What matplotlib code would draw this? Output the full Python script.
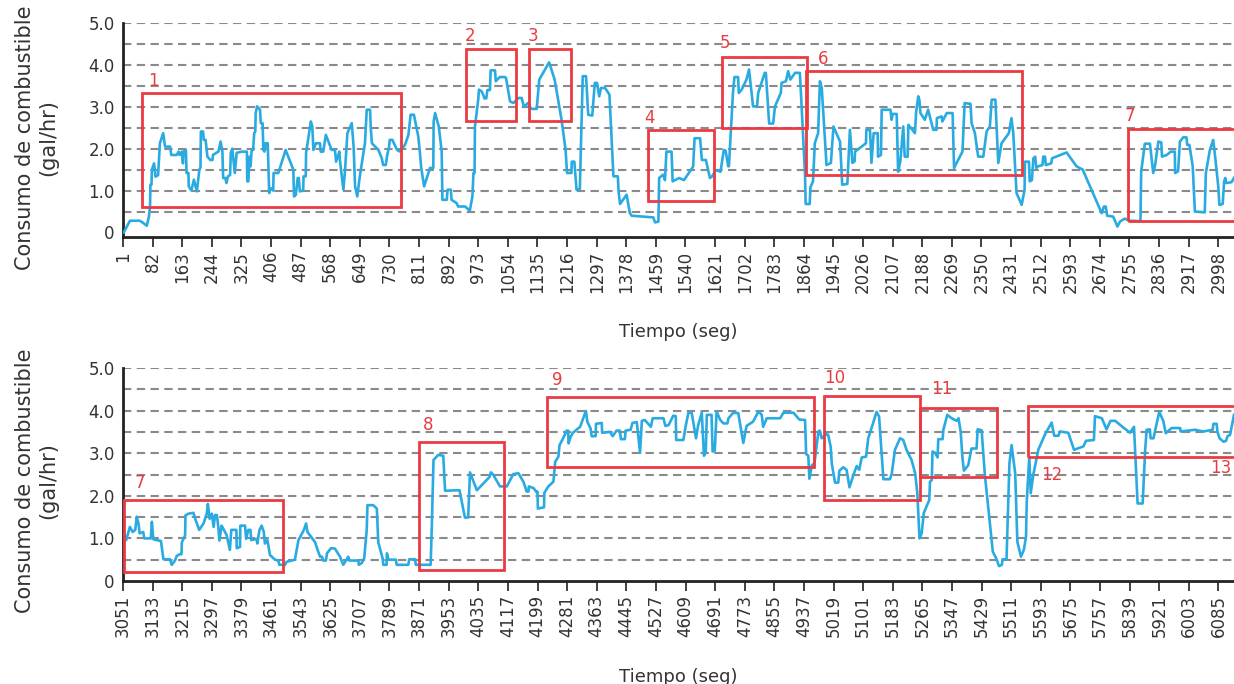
import matplotlib
matplotlib.use("Agg")
import matplotlib.pyplot as plt
from matplotlib.patches import Rectangle
import numpy as np

# --- data: (time in s, fuel use in gal/hr) ---
top_t = [3, 20, 47, 56, 66, 72, 75, 76, 79, 80, 86, 90, 97, 102, 111, 116, 130, 133, 148, 153, 156, 162, 165, 167,
         173, 175, 180, 181, 188, 195, 203, 210, 213, 214, 220, 222, 227, 232, 240, 246, 247, 262, 268, 273, 275, 281,
         284, 288, 294, 296, 300, 307, 312, 326, 340, 341, 344, 347, 350, 353, 357, 360, 363, 364, 368, 376, 378, 383,
         385, 388, 391, 397, 401, 405, 412, 413, 426, 446, 467, 469, 474, 479, 482, 485, 494, 495, 501, 502, 515, 519,
         522, 529, 540, 542, 549, 556, 572, 581, 584, 593, 594, 604, 608, 615, 627, 632, 636, 642, 649, 663, 668, 677,
         679, 682, 700, 709, 713, 720, 724, 729, 731, 738, 751,
         759, 773, 782, 788, 797, 809, 814, 817, 825, 841, 850, 851, 855, 865, 873, 875, 887, 889, 898, 900, 914, 918,
         937, 950, 957, 960, 963, 964, 973, 975, 982, 986, 990, 995, 998, 1005, 1007, 1019, 1021, 1025, 1032, 1046,
         1049, 1060, 1069, 1083, 1092, 1098, 1109, 1118, 1133, 1140, 1167, 1182, 1201, 1212, 1216, 1228, 1229, 1236,
         1242, 1251, 1259, 1268, 1274, 1285, 1292, 1298, 1304, 1309, 1320, 1332, 1343, 1355, 1357, 1361, 1379, 1388,
         1393, 1452, 1457, 1466, 1468, 1479, 1484, 1488, 1502, 1505, 1523, 1536, 1561, 1565, 1580, 1585, 1596, 1607,
         1613, 1623, 1636, 1645, 1650, 1657, 1659, 1670, 1674, 1684, 1686, 1694, 1707, 1714, 1725, 1736, 1739, 1757,
         1760, 1769, 1780, 1785, 1801, 1803, 1815, 1821, 1827, 1840, 1853, 1856, 1867, 1869, 1880, 1882, 1889, 1894,
         1903, 1908, 1913, 1926, 1938, 1945, 1963, 1969, 1983, 1990, 1997, 2003, 2004, 2034, 2035, 2045, 2049, 2055,
         2066, 2067, 2075, 2077, 2101, 2104, 2107, 2118, 2122, 2128, 2136, 2140, 2148, 2150, 2168, 2171, 2177, 2180,
         2183, 2195, 2204, 2218, 2227, 2228, 2241, 2243, 2255, 2271, 2275, 2298, 2304, 2320, 2323, 2332, 2341, 2355,
         2364, 2373, 2378, 2388, 2396, 2405, 2425, 2432, 2437, 2446, 2460, 2468, 2469, 2480, 2482, 2488, 2492, 2497,
         2500, 2505, 2517, 2519, 2524, 2526, 2541, 2543, 2583, 2610, 2627, 2679, 2685, 2690, 2694, 2710, 2714, 2722,
         2729, 2736, 2742, 2756, 2785, 2787, 2797, 2811, 2820, 2825, 2834, 2842, 2844, 2857, 2868, 2879, 2880, 2888,
         2893, 2902, 2911, 2913, 2919, 2928, 2934, 2961, 2964, 2975, 2984, 2987, 2998, 3001, 3010, 3014, 3017, 3020,
         3034, 3041]
top_v = [0.0, 0.28, 0.28, 0.23, 0.16, 0.38, 0.62, 1.14, 1.14, 1.5, 1.65, 1.33, 1.37, 2.13, 2.37, 2.05, 2.05, 1.85, 1.85,
         1.93, 1.85, 1.93, 1.65, 1.93, 1.97, 1.42, 1.42, 1.1, 1.0, 1.26, 0.98, 1.5, 1.55, 2.41, 2.41, 2.21, 2.21, 1.81,
         1.73, 1.73, 1.85, 1.93, 2.17, 1.93, 1.3, 1.3, 1.18, 1.34, 1.37, 1.9, 2.0, 1.42, 1.9, 1.93, 1.93, 1.22, 1.22,
         1.81, 1.58, 1.97, 1.97, 2.37, 2.41, 2.85, 3.01, 2.93, 2.61, 2.61, 1.97, 1.93, 2.13, 2.13, 0.94, 1.06, 1.0, 1.42,
         1.42, 1.97, 1.5, 0.86, 0.9, 1.3, 1.3, 0.98, 1.0, 1.34, 1.34, 1.9, 2.65, 2.53, 1.97, 2.13, 2.13, 1.93, 1.93, 2.33,
         1.97, 1.97, 1.69, 1.93, 1.77, 1.02, 1.42, 2.37, 2.61, 2.05, 1.1, 0.86, 1.34, 2.13, 2.93, 2.93, 2.49, 2.13, 1.97,
         1.77, 1.61, 1.61, 1.85, 2.05, 2.21, 2.21, 1.97,
         1.93, 2.1, 2.33, 2.81, 2.81, 2.29, 1.85, 1.54, 1.1, 1.54, 1.54, 2.65, 2.85, 2.53, 1.93, 0.78, 0.78, 1.02, 1.02,
         0.78, 0.7, 0.62, 0.62, 0.52, 0.86, 1.42, 1.42, 2.53, 3.17, 3.41, 3.37, 3.3, 3.2, 3.2, 3.4, 3.4, 3.87, 3.87, 3.61,
         3.65, 3.71, 3.71, 3.69, 3.13, 3.09, 3.21, 3.21, 3.0, 3.09, 2.95, 2.95, 3.65, 4.06, 3.65, 2.69, 1.97, 1.42, 1.42,
         1.69, 1.69, 1.02, 1.04, 3.73, 3.73, 2.81, 2.79, 3.57, 3.57, 3.25, 3.45, 3.45, 3.29, 1.34, 1.34, 0.98, 0.68,
         0.9, 0.46, 0.4, 0.36, 0.24, 0.26, 1.3, 1.38, 1.25, 1.93, 1.93, 1.22, 1.3, 1.25, 1.57, 2.25, 2.25, 1.73, 1.73,
         1.3, 1.34, 1.49, 1.45, 1.97, 1.95, 1.58, 1.58, 3.33, 3.71, 3.71, 3.33, 3.41, 3.65, 3.89, 3.01, 3.01, 3.33, 3.81,
         3.81, 2.6, 2.6, 3.01, 3.33, 3.57, 3.61, 3.85, 3.65, 3.81, 3.81, 3.33, 1.42, 0.68, 0.68, 1.08, 1.22, 2.13, 2.37,
         3.61, 3.45, 1.61, 1.66, 2.53, 2.17, 1.14, 1.16, 2.45, 1.66, 1.7, 1.93, 2.13, 2.45, 2.45, 1.66, 2.37, 2.37, 1.81,
         1.85, 2.93, 2.93, 2.69, 2.83, 2.83, 1.45, 1.7, 2.53, 1.81, 1.81, 2.57, 2.37, 2.85, 3.25, 3.17, 2.85, 2.69, 2.93,
         2.45, 2.45, 2.73, 2.77, 2.65, 2.85, 2.85, 1.54, 1.93, 3.09, 3.07, 2.61, 2.37, 1.81, 1.81, 2.41, 2.53, 3.17, 3.17,
         1.66, 2.13, 2.37, 2.73, 2.37, 0.94, 0.66, 1.02, 1.69, 1.69, 1.22, 1.25, 1.77, 1.81, 1.54, 1.58, 1.61, 1.81, 1.81,
         1.61, 1.65, 1.77, 1.91, 1.58, 1.5, 0.46, 0.62, 0.62, 0.4, 0.38, 0.31, 0.14, 0.26, 0.3, 0.33, 0.28, 0.27, 1.45,
         2.12, 2.12, 1.42, 1.6, 2.17, 2.15, 1.81, 1.85, 1.93, 1.93, 1.42, 1.46, 2.17, 2.27, 2.27, 2.09, 2.09, 1.58, 0.5,
         0.48, 1.42, 1.97, 2.21, 2.0, 1.1, 0.66, 0.68, 1.22, 1.3, 1.18, 1.2, 1.3]

bot_t = [3055, 3060, 3070, 3078, 3085, 3089, 3094, 3097, 3107, 3110, 3128, 3131, 3135, 3144, 3156, 3163, 3181, 3186,
         3195, 3200, 3209, 3213, 3214, 3223, 3224, 3232, 3246, 3251, 3262, 3274, 3283, 3286, 3291, 3297, 3302, 3306,
         3311, 3315, 3318, 3324, 3338, 3347, 3351, 3365, 3366, 3375, 3376, 3389, 3392, 3398, 3404, 3406, 3421, 3423,
         3429, 3435, 3441, 3444, 3451, 3458, 3472, 3481, 3484, 3500, 3504, 3527, 3531, 3537, 3552, 3558, 3562, 3583,
         3592, 3597, 3602, 3606, 3613, 3616, 3627, 3638, 3652, 3661, 3675, 3678, 3703, 3704, 3712, 3719, 3726, 3728,
         3744, 3754, 3758, 3770, 3772, 3781, 3782, 3786, 3807, 3809, 3841, 3844, 3860, 3862, 3903, 3906, 3911, 3924,
         3938, 3943, 3983, 3998, 4007, 4012, 4031, 4066, 4070, 4076, 4095, 4114, 4132, 4146, 4160, 4169, 4174, 4175,
         4188, 4197, 4199, 4200, 4217, 4218, 4229, 4243, 4248, 4257, 4260, 4271, 4280, 4284, 4285, 4290, 4297, 4317,
         4333, 4337, 4346, 4349, 4360, 4361, 4377, 4378, 4400, 4407, 4418, 4427, 4430, 4441, 4443, 4457, 4462, 4474,
         4483, 4488, 4496, 4513, 4518, 4548, 4553, 4562, 4575, 4582, 4583, 4603, 4609, 4617, 4626, 4638, 4644, 4654,
         4660, 4665, 4668, 4681, 4684, 4690, 4695, 4705, 4714, 4725, 4728, 4741, 4755, 4769, 4778, 4796, 4811, 4820,
         4824, 4834, 4871, 4880, 4908, 4924, 4940, 4943, 4949, 4952, 4959, 4966, 4977,
         4981, 4986, 5000, 5004, 5011, 5014, 5023, 5032, 5035, 5046, 5055, 5063, 5074, 5083, 5090, 5097, 5109, 5115,
         5129, 5138, 5145, 5157, 5175, 5180, 5189, 5203, 5212, 5221, 5235, 5245, 5251, 5257, 5263, 5269, 5284, 5286,
         5291, 5293, 5300, 5307, 5309, 5321, 5323, 5334, 5346, 5360, 5365, 5371, 5376, 5380, 5392, 5401, 5415, 5418,
         5429, 5438, 5450, 5460, 5471, 5477, 5485, 5487, 5498, 5506, 5512, 5522, 5528, 5538, 5546, 5552, 5554, 5561,
         5565, 5572, 5586, 5605, 5623, 5630, 5642, 5646, 5669, 5685, 5711, 5718, 5740, 5743, 5762, 5775, 5786, 5799,
         5822, 5840, 5851, 5861, 5875, 5882, 5886, 5895, 5897, 5905, 5909, 5921, 5932, 5939, 5955, 5979, 5980, 6020,
         6043, 6069, 6071, 6080, 6082, 6088, 6099, 6106, 6110, 6117, 6128]
bot_v = [1.08, 0.96, 1.27, 1.15, 1.2, 1.51, 1.35, 1.12, 1.15, 1.0, 1.0, 1.39, 0.98, 0.96, 0.94, 0.51, 0.51, 0.38, 0.48,
         0.59, 0.63, 0.63, 0.91, 1.07, 1.54, 1.58, 1.6, 1.46, 1.2, 1.35, 1.58, 1.81, 1.46, 1.58, 1.27, 1.55, 1.55, 1.27,
         0.95, 1.3, 1.08, 0.73, 1.2, 1.2, 0.77, 0.8, 1.3, 1.3, 0.99, 1.2, 1.2, 0.96, 0.99, 0.88, 1.2, 1.3, 1.15, 0.88, 0.96,
         0.61, 0.5, 0.48, 0.38, 0.38, 0.45, 0.5, 0.68, 0.96, 1.2, 1.35, 1.15, 0.91, 0.68, 0.57, 0.57, 0.48, 0.48, 0.65,
         0.77, 0.76, 0.57, 0.38, 0.57, 0.48, 0.48, 0.38, 0.42, 0.53, 1.2, 1.78, 1.78, 1.7, 0.91, 0.53, 0.38, 0.38, 0.65,
         0.5, 0.5, 0.38, 0.38, 0.51, 0.51, 0.38, 0.38, 1.2, 2.84, 2.96, 2.94, 2.12, 2.13, 1.49, 1.49, 2.55, 2.13, 2.44,
         2.55, 2.5, 2.22, 2.22, 2.51, 2.53, 2.33, 2.1, 2.1, 2.22, 2.18, 2.08, 2.1, 1.7, 1.73, 2.07, 2.22, 2.33, 2.8, 2.92,
         3.19, 3.37, 3.53, 3.53, 3.23, 3.37, 3.48, 3.62, 3.99, 3.74, 3.58, 3.4, 3.4, 3.69, 3.71, 3.48, 3.5, 3.4, 3.53,
         3.53, 3.33, 3.33, 3.53, 3.55, 3.71, 3.73, 3.01, 3.76, 3.78, 3.62, 3.82, 3.82, 3.64, 3.66, 3.88, 3.87, 3.31, 3.31,
         3.62, 3.95, 3.95, 3.35, 3.66, 3.95, 2.94, 3.02, 3.9, 3.9, 3.04, 3.06, 3.98, 3.78, 3.7, 3.7, 3.82, 3.95, 3.94,
         3.24, 3.64, 3.74, 3.98, 3.9, 3.62, 3.82, 3.82, 3.95, 3.95, 3.79, 3.78, 2.98, 2.94, 2.4, 2.72, 2.76, 3.51,
         3.53, 3.35, 3.45, 3.43, 3.15, 2.76, 2.31, 2.31, 2.59, 2.67, 2.61, 2.2, 2.49, 2.7, 2.61, 2.9, 2.92, 3.35, 3.72,
         3.97, 3.86, 2.39, 2.39, 2.51, 3.08, 3.35, 3.31, 3.08, 2.84, 2.53, 2.06, 1.0, 1.12, 1.6, 1.9, 2.33, 2.37, 3.04,
         3.01, 2.9, 3.33, 3.33, 3.55, 3.9, 3.82, 3.76, 3.82, 3.51, 2.88, 2.59, 2.72, 3.11, 3.11, 3.56, 3.54, 2.49, 1.51,
         0.69, 0.5, 0.35, 0.38, 0.51, 0.51, 2.76, 3.19, 2.53, 0.92, 0.57, 0.73, 1.04, 1.86, 2.92, 2.06, 2.49, 3.08, 3.45,
         3.72, 3.41, 3.41, 3.51, 3.48, 3.08, 3.16, 3.29, 3.31, 3.87, 3.82, 3.56, 3.76, 3.76, 3.6, 3.48, 3.62, 1.82, 1.82,
         3.08, 3.55, 3.56, 3.35, 3.35, 3.51, 3.97, 3.76, 3.47, 3.59, 3.59, 3.51, 3.55, 3.51, 3.55, 3.69, 3.69, 3.51,
         3.35, 3.27, 3.29, 3.4, 3.43, 3.9]

# highlighted segments: label, t start, t end, low, high, label t, label value
top_boxes = [("1", 52, 762, 0.60, 3.34, 83, 3.62),
             ("2", 939, 1075, 2.67, 4.38, 951, 4.68),
             ("3", 1113, 1227, 2.67, 4.38, 1123, 4.68),
             ("4", 1437, 1618, 0.74, 2.45, 1443, 2.73),
             ("5", 1639, 1872, 2.49, 4.19, 1649, 4.52),
             ("6", 1870, 2460, 1.38, 3.85, 1917, 4.15),
             ("7", 2752, 3100, 0.28, 2.48, 2757, 2.77)]
bot_boxes = [("7", 3054, 3493, 0.22, 1.90, 3098, 2.29),
             ("8", 3871, 4106, 0.26, 3.27, 3896, 3.66),
             ("9", 4224, 4966, 2.68, 4.33, 4255, 4.73),
             ("10", 4993, 5258, 1.90, 4.35, 5021, 4.77),
             ("11", 5258, 5471, 2.45, 4.05, 5319, 4.50),
             ("", 5557, 6200, 2.90, 4.11, 0, 0)]
bot_extra_labels = [("12", 5624, 2.50), ("13", 6092, 2.66)]

top_ticks = np.arange(1, 3041, 81)
bot_ticks = np.arange(3051, 6128, 82)

blue = "#29abe2"
red = "#ea3a42"

fig = plt.figure(figsize=(12.34, 6.84), dpi=100)
ax1 = fig.add_axes([123 / 1234, 1 - 237 / 684, 1111 / 1234, 214 / 684])
ax2 = fig.add_axes([123 / 1234, 1 - 581 / 684, 1111 / 1234, 213 / 684])


def style(ax, t, v, ticks, xlim, ylim, boxes):
    for g in np.arange(0.5, 5.01, 0.5):
        ax.axhline(g, color="#8a8a8a", lw=1.5, linestyle=(0, (4, 2.6)), zorder=1)
    ax.plot(t, v, color=blue, lw=1.9, zorder=3)
    for lab, t0, t1, lo, hi, lt, lv in boxes:
        ax.add_patch(Rectangle((t0, lo), t1 - t0, hi - lo, fill=False,
                               edgecolor=red, lw=2.0, zorder=4))
        if lab:
            ax.text(lt, lv, lab, color=red, fontsize=12, ha="center", va="center")
    ax.set_xlim(*xlim)
    ax.set_ylim(*ylim)
    ax.set_yticks([0, 1, 2, 3, 4, 5])
    ax.set_yticklabels(["0", "1.0", "2.0", "3.0", "4.0", "5.0"])
    ax.set_xticks(ticks)
    ax.set_xticklabels([str(x) for x in ticks], rotation=90)
    ax.tick_params(axis="y", length=0, labelsize=12, labelcolor="#333333", pad=6)
    ax.tick_params(axis="x", length=7, width=1.3, color="#333333", labelsize=12,
                   labelcolor="#333333", pad=3, direction="out")
    for s in ["top", "right"]:
        ax.spines[s].set_visible(False)
    ax.spines["left"].set_linewidth(2)
    ax.spines["bottom"].set_linewidth(2)
    ax.spines["left"].set_color("#222222")
    ax.spines["bottom"].set_color("#222222")
    ax.set_ylabel("Consumo de combustible\n(gal/hr)", fontsize=15, color="#333333")
    ax.set_xlabel("Tiempo (seg)", fontsize=13, color="#333333")


style(ax1, top_t, top_v, top_ticks, (1, 3041), (-0.108, 5.0), top_boxes)
style(ax2, bot_t, bot_v, bot_ticks, (3051, 6128), (0, 5.0), bot_boxes)
for lab, lt, lv in bot_extra_labels:
    ax2.text(lt, lv, lab, color=red, fontsize=12, ha="center", va="center")

ax1.yaxis.set_label_coords(-0.058, 0.465)
ax2.yaxis.set_label_coords(-0.058, 0.47)
ax1.xaxis.set_label_coords(0.5, -0.40)
ax2.xaxis.set_label_coords(0.5, -0.41)

fig.savefig("out.png", dpi=100)
